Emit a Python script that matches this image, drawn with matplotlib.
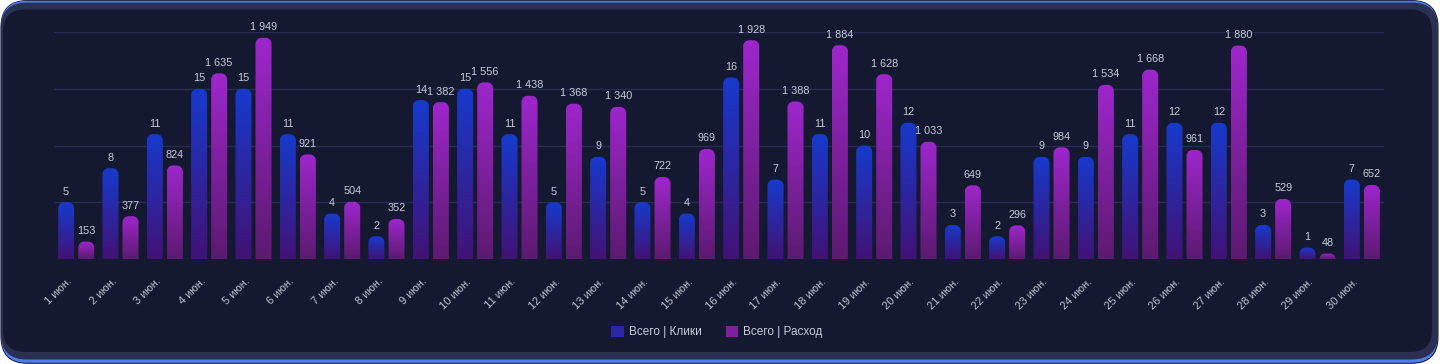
import numpy as np
import matplotlib
matplotlib.use("Agg")
import matplotlib.pyplot as plt
from matplotlib.patches import FancyBboxPatch, PathPatch, Patch
from matplotlib.path import Path
from matplotlib.transforms import IdentityTransform, ScaledTranslation

# ---------------- data ----------------
days = [f"{d} июн." for d in range(1, 31)]
clicks = [5, 8, 11, 15, 15, 11, 4, 2, 14, 15, 11, 5, 9, 5, 4, 16, 7, 11, 10, 12,
          3, 2, 9, 9, 11, 12, 12, 3, 1, 7]
spend = [153, 377, 824, 1635, 1949, 921, 504, 352, 1382, 1556, 1438, 1368, 1340,
         722, 969, 1928, 1388, 1884, 1628, 1033, 649, 296, 984, 1534, 1668, 961,
         1880, 529, 48, 652]
series_names = ["Всего | Клики", "Всего | Расход"]

# ---------------- style ----------------
W, H = 1440, 364
DPI = 100
BG = "#141830"
TXT = "#c9ccd8"
GRID = "#262c52"
BLUE_TOP, BLUE_BOT = np.array([22, 58, 204]) / 255, np.array([66, 18, 118]) / 255
PURP_TOP, PURP_BOT = np.array([158, 38, 204]) / 255, np.array([92, 26, 112]) / 255
FONT = ["Liberation Sans", "DejaVu Sans"]
plt.rcParams["font.family"] = FONT

fig = plt.figure(figsize=(W / DPI, H / DPI), dpi=DPI)
fig.patch.set_facecolor("white")


def card(x0, y0, x1, y1, r, color, z):
    # image coords (y down) -> display coords
    p = FancyBboxPatch((x0, H - y1), x1 - x0, y1 - y0,
                       boxstyle=f"round,pad=0,rounding_size={r}",
                       transform=IdentityTransform(), facecolor=color,
                       edgecolor="none", zorder=z)
    fig.add_artist(p)


card(0.5, 0.0, 1438.5, 363.8, 27, "#0c0e1c", -11)
card(1.2, 0.7, 1437.5, 362.8, 26, "#4d7cf5", -10)
card(0.8, 2.6, 1438.0, 359.5, 26, "#2a3052", -9)
card(3.0, 9.5, 1432.0, 352.0, 22, BG, -8)

# ---------------- axes ----------------
left, right, top, base = 54, 1384, 32, 259
ax = fig.add_axes([left / W, 1 - base / H, (right - left) / W, (base - top) / H])
ax.set_facecolor("none")
ax2 = ax.twinx()
ax2.set_facecolor("none")

x = np.arange(len(days))
off, bw = 0.226, 0.362
ax.set_xlim(-0.5, len(days) - 0.5)
ax.set_ylim(0, 20)
ax2.set_ylim(0, 2000)
ax.set_autoscale_on(False)
ax2.set_autoscale_on(False)

for a in (ax, ax2):
    for s in a.spines.values():
        s.set_visible(False)
    a.tick_params(left=False, right=False, labelleft=False, labelright=False,
                  bottom=False)

ax.set_yticks([0, 5, 10, 15, 20])
ax.yaxis.grid(True, color=GRID, linewidth=1.0)
ax.set_axisbelow(True)
ax2.set_yticks([])

bars1 = ax.bar(x - off, clicks, bw, color="none", edgecolor="none")
bars2 = ax2.bar(x + off, spend, bw, color="none", edgecolor="none")


def grad_bars(a, bars, ctop, cbot):
    n = 128
    t = np.linspace(0, 1, n)[:, None]
    arr = (ctop[None, :] * (1 - t) + cbot[None, :] * t)[:, None, :]
    for rect in bars:
        x0, w, h = rect.get_x(), rect.get_width(), rect.get_height()
        if h <= 0:
            continue
        (px0, py0), (px1, py1) = a.transData.transform([(x0, 0), (x0 + w, h)])
        r = min(6.0, (px1 - px0) / 2, (py1 - py0))
        k = 0.5523
        verts = [(px0, py0), (px1, py0), (px1, py1 - r),
                 (px1, py1 - r + k * r), (px1 - r + k * r, py1), (px1 - r, py1),
                 (px0 + r, py1),
                 (px0 + r - k * r, py1), (px0, py1 - r + k * r), (px0, py1 - r),
                 (px0, py0)]
        codes = [Path.MOVETO, Path.LINETO, Path.LINETO,
                 Path.CURVE4, Path.CURVE4, Path.CURVE4,
                 Path.LINETO,
                 Path.CURVE4, Path.CURVE4, Path.CURVE4,
                 Path.CLOSEPOLY]
        clip = PathPatch(Path(verts, codes), transform=IdentityTransform())
        im = a.imshow(arr, extent=(x0, x0 + w, 0, h), aspect="auto",
                      interpolation="bilinear", zorder=3)
        im.set_clip_path(clip)


grad_bars(ax, bars1, BLUE_TOP, BLUE_BOT)
grad_bars(ax2, bars2, PURP_TOP, PURP_BOT)
ax.set_xlim(-0.5, len(days) - 0.5)
ax.set_ylim(0, 20)
ax2.set_ylim(0, 2000)


def fmt(v):
    return f"{v:,}".replace(",", " ")


ax.bar_label(bars1, labels=[fmt(v) for v in clicks], padding=4, color=TXT,
             fontsize=7.8)
ax2.bar_label(bars2, labels=[fmt(v) for v in spend], padding=4, color=TXT,
              fontsize=7.8)

ax.set_xticks(x)
ax.set_xticklabels(days, rotation=45, ha="right", va="center",
                   rotation_mode="anchor", color="#bfc3d0", fontsize=8.0)
ax.tick_params(axis="x", length=0, pad=15.0, labelbottom=True)
shift = ScaledTranslation(-5.5 / DPI, 0, fig.dpi_scale_trans)
for lab in ax.get_xticklabels():
    lab.set_transform(lab.get_transform() + shift)

handles = [Patch(facecolor=(BLUE_TOP + BLUE_BOT) / 2, edgecolor="none"),
           Patch(facecolor=(PURP_TOP + PURP_BOT) / 2, edgecolor="none")]
fig.legend(handles, series_names, loc="center",
           bbox_to_anchor=(717 / W, 1 - 332 / H), ncol=2, frameon=False,
           fontsize=8.5, labelcolor=TXT, handlelength=1.05, handleheight=1.05,
           handletextpad=0.45, columnspacing=2.0)

fig.savefig("out.png", dpi=DPI, facecolor=fig.get_facecolor())
